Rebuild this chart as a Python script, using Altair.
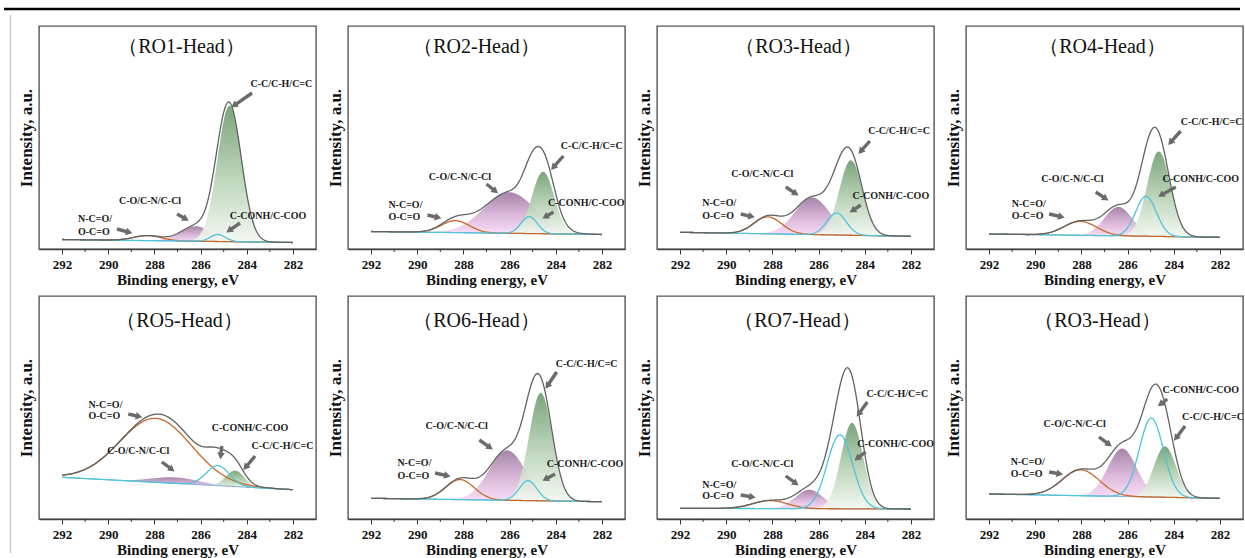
import numpy as np
import pandas as pd
import altair as alt

# ---------------- data ----------------
PANEL_TITLES = ["（RO1-Head）", "（RO2-Head）", "（RO3-Head）", "（RO4-Head）",
                "（RO5-Head）", "（RO6-Head）", "（RO7-Head）", "（RO3-Head）"]

# linear background (intensity, a.u.) at 292 eV and at 282 eV
BASE_AT_292 = [9.5, 17.5, 16.7, 15.0, 41.7, 20.7, 10.7, 25.0]
BASE_AT_282 = [6.5, 14.5, 12.7, 11.7, 29.3, 17.3, 10.0, 20.7]

# fitted components: centre (eV), height above background, width (sigma, eV)
CC_CENTER = [284.75, 284.55, 284.60, 284.65, 284.50, 284.65, 284.55, 284.38]
CC_HEIGHT = [136, 62, 75, 85, 16, 108, 86, 51]
CC_SIGMA = [0.52, 0.48, 0.50, 0.50, 0.40, 0.50, 0.48, 0.48]

CO_CENTER = [286.20, 286.00, 286.27, 286.40, 287.10, 286.10, 286.40, 286.23]
CO_HEIGHT = [15, 41, 37, 29, 6, 50, 19, 48]
CO_SIGMA = [0.65, 1.10, 0.75, 0.60, 1.00, 0.78, 0.60, 0.62]

CONH_CENTER = [285.25, 285.15, 285.22, 285.20, 285.25, 285.20, 285.08, 284.97]
CONH_HEIGHT = [7, 17, 22, 40, 20, 20, 74, 79]
CONH_SIGMA = [0.33, 0.35, 0.42, 0.45, 0.50, 0.38, 0.55, 0.52]

NCO_CENTER = [288.30, 288.35, 288.20, 288.05, 287.95, 288.15, 288.10, 288.03]
NCO_HEIGHT = [5, 12, 17, 14, 64, 20, 8, 26]
NCO_SIGMA = [0.60, 0.60, 0.60, 0.70, 1.55, 0.62, 0.75, 0.80]

MAJOR_TICKS = [282, 284, 286, 288, 290, 292]
MINOR_TICKS = [283, 285, 287, 289, 291]

LABEL_TEXT = {"CC": ["C-C/C-H/C=C"], "CO": ["C-O/C-N/C-Cl"],
              "CONH": ["C-CONH/C-COO"], "NCO": ["N-C=O/", "O-C=O"]}

# annotations: (component, label E, label intensities, arrow tail E, tail I, arrow tip E, tip I)
ANNOTATIONS = [
    [("CC", 282.50, [165], 283.77, 156, 284.77, 140),
     ("CO", 288.19, [48], 287.02, 35, 286.41, 27),
     ("NCO", 291.31, [30, 17], 289.62, 20, 288.84, 15),
     ("CONH", 283.08, [33], 284.29, 26, 284.98, 15)],
    [("CC", 282.44, [103], 283.67, 93, 284.28, 77),
     ("CO", 288.15, [72], 287.00, 65, 286.41, 54),
     ("NCO", 291.25, [44, 31.7], 289.56, 34, 288.84, 30),
     ("CONH", 282.68, [46], 284.10, 37, 284.68, 29)],
    [("CC", 282.51, [118], 283.78, 108, 284.35, 93),
     ("CO", 288.44, [75], 287.42, 62, 286.77, 52),
     ("NCO", 291.04, [46, 32.7], 289.37, 35, 288.65, 31),
     ("CONH", 282.87, [53], 284.17, 44, 284.75, 35)],
    [("CC", 282.36, [127], 283.70, 118, 284.32, 102),
     ("CO", 288.39, [70], 287.38, 57, 286.73, 47),
     ("NCO", 291.02, [45, 32.7], 289.40, 35, 288.61, 31),
     ("CONH", 282.83, [70], 283.91, 62, 284.78, 51)],
    [("NCO", 290.86, [114, 103.3], 289.13, 105, 288.41, 101),
     ("CO", 288.70, [68], 287.68, 57, 287.03, 46),
     ("CONH", 283.86, [91], 285.08, 73, 285.16, 57),
     ("CC", 282.45, [73], 283.64, 63, 284.22, 47)],
    [("CC", 282.66, [155], 283.96, 147, 284.51, 128),
     ("CO", 288.29, [93], 287.31, 79, 286.63, 68),
     ("NCO", 290.86, [56, 43.3], 289.23, 46, 288.44, 42),
     ("CONH", 282.73, [55], 284.03, 45, 284.68, 37)],
    [("CC", 282.59, [125], 283.89, 117, 284.42, 100),
     ("CONH", 282.66, [75], 283.96, 67, 284.54, 57),
     ("CO", 288.44, [55], 287.42, 43, 286.77, 32),
     ("NCO", 291.04, [34, 22.7], 289.37, 24, 288.61, 21)],
    [("CONH", 282.83, [129], 284.28, 120, 284.78, 111),
     ("CC", 282.30, [102], 283.51, 93, 284.06, 76),
     ("CO", 288.29, [95], 287.24, 82, 286.59, 71),
     ("NCO", 291.06, [57, 45], 289.40, 47, 288.68, 44)],
]

# ---------------- styling / layout ----------------
W, H = 277, 223
X_DOMAIN = [281, 293]
Y_DOMAIN = [0, 223]
PX_PER_EV = W / (X_DOMAIN[1] - X_DOMAIN[0])
PX_PER_UNIT = H / (Y_DOMAIN[1] - Y_DOMAIN[0])
TITLE_DX = [4, -10, 3, -2, 2, -10, 2, -7]
TITLE_Y = [21, 21, 21, 21, 25, 25, 25, 25]
SERIF = "Liberation Serif"
ARROW = "#6b6b6b"

GREEN = alt.Gradient(gradient="linear",
                     stops=[alt.GradientStop(color="#6c9b6e", offset=0),
                            alt.GradientStop(color="#b9d3b6", offset=0.55),
                            alt.GradientStop(color="#f3f8f1", offset=1)],
                     x1=0, x2=0, y1=0, y2=1)
PURPLE = alt.Gradient(gradient="linear",
                      stops=[alt.GradientStop(color="#a27fa6", offset=0),
                             alt.GradientStop(color="#dbb6da", offset=0.55),
                             alt.GradientStop(color="#f8def5", offset=1)],
                      x1=0, x2=0, y1=0, y2=1)

ENERGY = np.round(np.arange(282.0, 292.0001, 0.05), 3)


def gauss(e, c, h, s):
    return h * np.exp(-0.5 * ((e - c) / s) ** 2)


def xenc(field):
    return alt.X(f"{field}:Q",
                 scale=alt.Scale(domain=X_DOMAIN, reverse=True, nice=False, zero=False),
                 axis=alt.Axis(values=MAJOR_TICKS, format="d", title="Binding energy, eV"))


def yenc(field):
    return alt.Y(f"{field}:Q",
                 scale=alt.Scale(domain=Y_DOMAIN, nice=False, zero=False),
                 axis=alt.Axis(title="Intensity, a.u."))


def make_panel(i):
    base = BASE_AT_282[i] + (BASE_AT_292[i] - BASE_AT_282[i]) * (ENERGY - 282) / 10
    cc = gauss(ENERGY, CC_CENTER[i], CC_HEIGHT[i], CC_SIGMA[i])
    co = gauss(ENERGY, CO_CENTER[i], CO_HEIGHT[i], CO_SIGMA[i])
    conh = gauss(ENERGY, CONH_CENTER[i], CONH_HEIGHT[i], CONH_SIGMA[i])
    nco = gauss(ENERGY, NCO_CENTER[i], NCO_HEIGHT[i], NCO_SIGMA[i])
    df = pd.DataFrame({"E": ENERGY, "base": base, "cc": base + cc, "co": base + co,
                       "conh": base + conh, "nco": base + nco,
                       "env": base + cc + co + conh + nco})

    co_area = alt.Chart(df).mark_area(color=PURPLE, opacity=0.95).encode(
        x=xenc("E"), y=yenc("co"), y2="base:Q")
    cc_area = alt.Chart(df).mark_area(color=GREEN, opacity=0.9).encode(
        x=xenc("E"), y=yenc("cc"), y2="base:Q")
    base_line = alt.Chart(df).mark_line(color="#7aa7d8", strokeWidth=1).encode(
        x=xenc("E"), y=yenc("base"))
    nco_line = alt.Chart(df).mark_line(color="#c8692a", strokeWidth=1.3).encode(
        x=xenc("E"), y=yenc("nco"))
    conh_line = alt.Chart(df).mark_line(color="#4fc4d8", strokeWidth=1.3).encode(
        x=xenc("E"), y=yenc("conh"))
    env_line = alt.Chart(df).mark_line(color="#626262", strokeWidth=1.3).encode(
        x=xenc("E"), y=yenc("env"))

    minor = alt.Chart(pd.DataFrame({"E": MINOR_TICKS})).mark_rule(
        color="#333", strokeWidth=1).encode(x=xenc("E"), y=alt.value(H), y2=alt.value(H + 3))

    # arrows and labels
    arrows, labels = [], []
    for comp, lx, lys, te, tv, he, hv in ANNOTATIONS[i]:
        dx = -(he - te) * PX_PER_EV
        dy = -(hv - tv) * PX_PER_UNIT
        ln = float(np.hypot(dx, dy))
        ux, uy = dx / ln, dy / ln
        back = 6.0
        ce = he + back * ux / PX_PER_EV
        cv = hv + back * uy / PX_PER_UNIT
        ang = float(np.degrees(np.arctan2(ux, -uy))) % 360
        arrows.append({"tE": te, "tv": tv, "cE": ce, "cv": cv, "angle": ang})
        align = "left" if comp == "NCO" else "center"
        for txt, ly in zip(LABEL_TEXT[comp], lys):
            labels.append({"E": lx, "v": ly, "label": txt, "align": align})
    adf = pd.DataFrame(arrows)
    ldf = pd.DataFrame(labels)

    shafts = alt.Chart(adf).mark_rule(color=ARROW, strokeWidth=3.4).encode(
        x=xenc("tE"), y=yenc("tv"), x2="cE:Q", y2="cv:Q")
    heads = alt.Chart(adf).mark_point(shape="triangle-up", filled=True, size=58,
                                      color=ARROW, opacity=1).encode(
        x=xenc("cE"), y=yenc("cv"), angle=alt.Angle("angle:Q", scale=None))
    text_c = alt.Chart(ldf[ldf["align"] == "center"]).mark_text(
        font=SERIF, fontWeight="bold", fontSize=10, color="#1a1a1a",
        align="center", baseline="middle", clip=True).encode(
        x=xenc("E"), y=yenc("v"), text="label:N")
    text_l = alt.Chart(ldf[ldf["align"] == "left"]).mark_text(
        font=SERIF, fontWeight="bold", fontSize=10, color="#1a1a1a",
        align="left", baseline="middle", clip=True).encode(
        x=xenc("E"), y=yenc("v"), text="label:N")

    title = alt.Chart(pd.DataFrame({"t": [PANEL_TITLES[i]]})).mark_text(
        font=SERIF, fontSize=20, color="#111", align="center", baseline="middle").encode(
        x=alt.value(W / 2 + TITLE_DX[i]), y=alt.value(TITLE_Y[i]), text="t:N")

    layers = [co_area, cc_area, base_line, nco_line, conh_line, env_line,
              minor, shafts, heads, text_c, text_l, title]

    if i == 0:
        one = pd.DataFrame({"a": [0]})
        top_bar = alt.Chart(one).mark_rule(color="#000", strokeWidth=2.5).encode(
            x=alt.value(-35), x2=alt.value(1201), y=alt.value(-17))
        left_bar = alt.Chart(one).mark_rule(color="#c9c9c9", strokeWidth=1.5).encode(
            x=alt.value(-28.5), y=alt.value(-11), y2=alt.value(527))
        layers += [top_bar, left_bar]

    return alt.layer(*layers).properties(width=W, height=H)


panels = [make_panel(i) for i in range(8)]
row1 = alt.hconcat(*panels[:4], spacing=32, bounds="flush")
row2 = alt.hconcat(*panels[4:], spacing=32, bounds="flush")

# with flush bounds a nested row counts as zero height, so the spacing is the row pitch
chart = alt.vconcat(row1, row2, spacing=H + 47, bounds="flush").properties(
    padding={"left": 2, "top": 7, "right": 0, "bottom": 0},
    background="white",
).configure_view(
    stroke="#555", strokeWidth=1.4
).configure_axisX(
    labelFont=SERIF, labelFontSize=13, labelFontWeight="bold", labelColor="#111",
    titleFont=SERIF, titleFontSize=15, titleFontWeight="bold", titleColor="#111",
    tickSize=5, tickColor="#333", domainColor="#444", domainWidth=1.4,
    grid=False, labelPadding=4, titlePadding=1
).configure_axisY(
    titleFont=SERIF, titleFontSize=17, titleFontWeight="bold", titleColor="#111",
    labels=False, ticks=False, domain=False, grid=False, titlePadding=4
)

chart.save("out.html", embed_options={"renderer": "svg", "actions": False})
